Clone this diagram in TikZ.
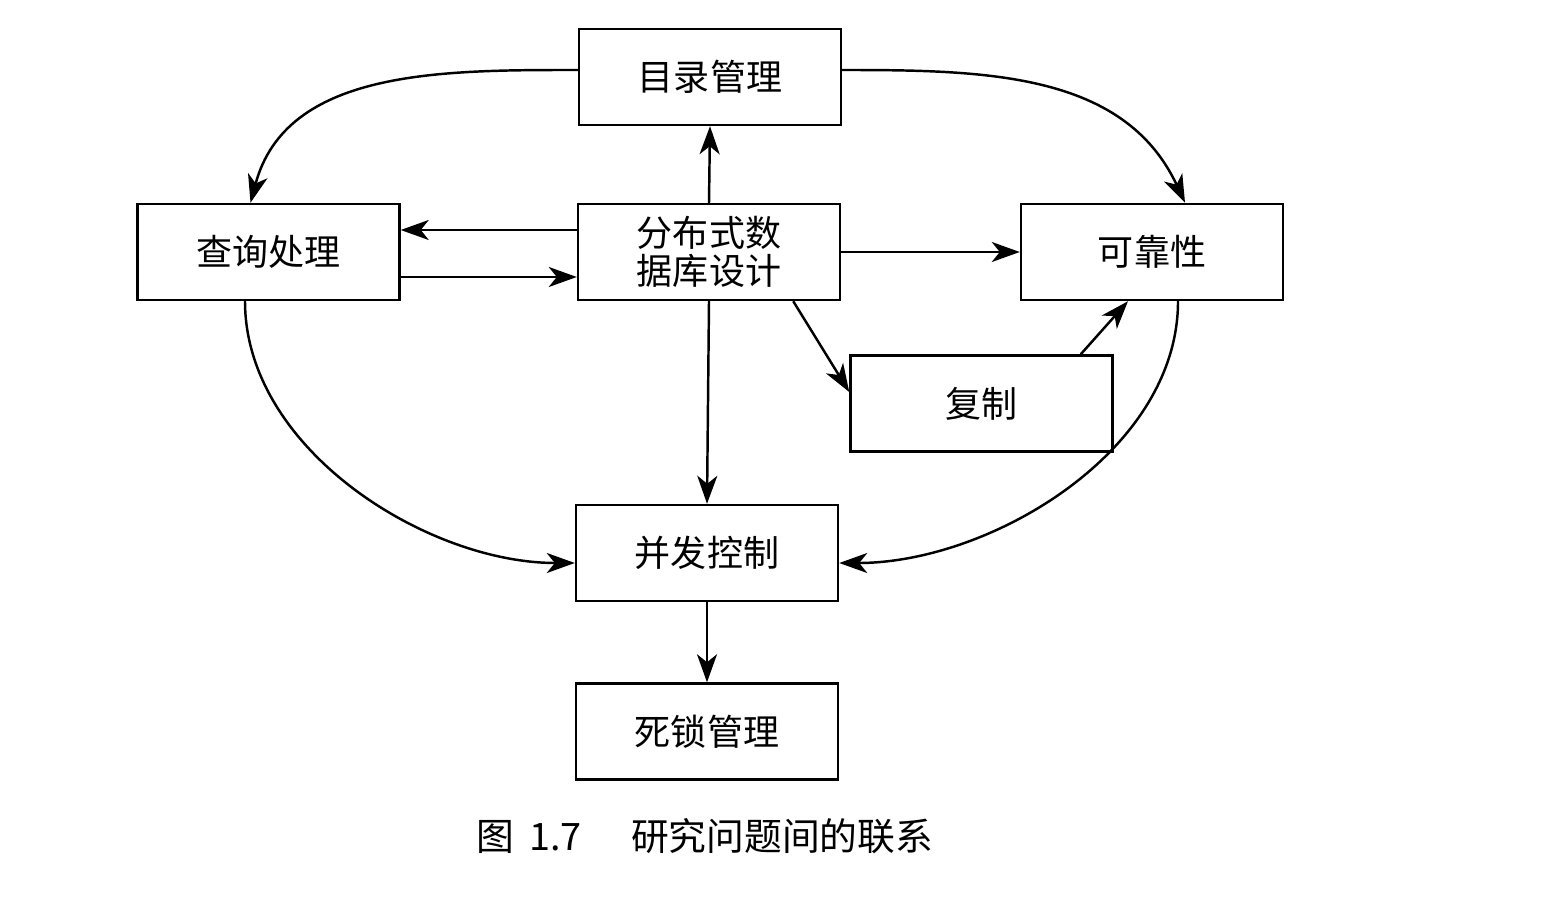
\documentclass[tikz,border=0pt]{standalone}
\usepackage{fontspec}
\setmainfont{Noto Sans CJK SC}
\usetikzlibrary{arrows.meta}

\tikzset{
    boite/.style={draw, line width=1.4pt, minimum width=5.24cm, minimum height=1.92cm,
        align=center, font=\fontsize{20.5}{24}\selectfont, inner sep=2pt},
    fleche/.style={line width=1.4pt, -{Stealth[length=0.56cm, width=0.4cm, inset=0.16cm]}}
}

\begin{document}
\begin{tikzpicture}

\useasboundingbox (0,0) rectangle (31.06,-17.96);

% Boîtes
\node[boite] (mulu) at (14.2,-1.54) {目录管理};
\node[boite] (chaxun) at (5.37,-5.04) {查询处理};
\node[boite] (sheji) at (14.18,-5.04) {分布式数\\[-2pt]据库设计};
\node[boite] (kekao) at (23.04,-5.04) {可靠性};
\node[boite] (fuzhi) at (19.63,-8.07) {复制};
\node[boite] (bingfa) at (14.14,-11.06) {并发控制};
\node[boite] (sisuo) at (14.14,-14.63) {死锁管理};

% Légende
\node[font=\fontsize{21.5}{25}\selectfont] (legende) at (14.1,-16.72)
{图\hspace{0.4em}1.7\hspace{1.3em}研究问题间的联系};

% Flèches droites
\draw[fleche] (sheji.north) -- (mulu.south);
\draw[fleche]
([yshift=0.44cm]sheji.west)
--
([yshift=0.44cm]chaxun.east);
\draw[fleche]
([yshift=-0.5cm]chaxun.east)
--
([yshift=-0.5cm]sheji.west);
\draw[fleche] (sheji.east) -- (kekao.west);
\draw[fleche]
([xshift=-0.96cm]sheji.south east)
--
([yshift=0.23cm]fuzhi.west);
\draw[fleche]
([xshift=-0.66cm]fuzhi.north east)
--
([xshift=-0.48cm]kekao.south);
\draw[fleche] (sheji.south) -- (bingfa.north);
\draw[fleche] (bingfa.south) -- (sisuo.north);

% Flèches courbes
\draw[fleche]
([yshift=0.14cm]mulu.west)
to[out=180, in=75]
([xshift=-0.36cm]chaxun.north);
\draw[fleche]
([yshift=0.14cm]mulu.east)
to[out=0, in=115]
([xshift=0.66cm]kekao.north);
\draw[fleche]
([xshift=-0.47cm]chaxun.south)
to[out=-90, in=180, looseness=0.9]
([yshift=-0.2cm]bingfa.west);
\draw[fleche]
([xshift=0.52cm]kekao.south)
to[out=-90, in=0, looseness=0.9]
([yshift=-0.2cm]bingfa.east);

\end{tikzpicture}
\end{document}
